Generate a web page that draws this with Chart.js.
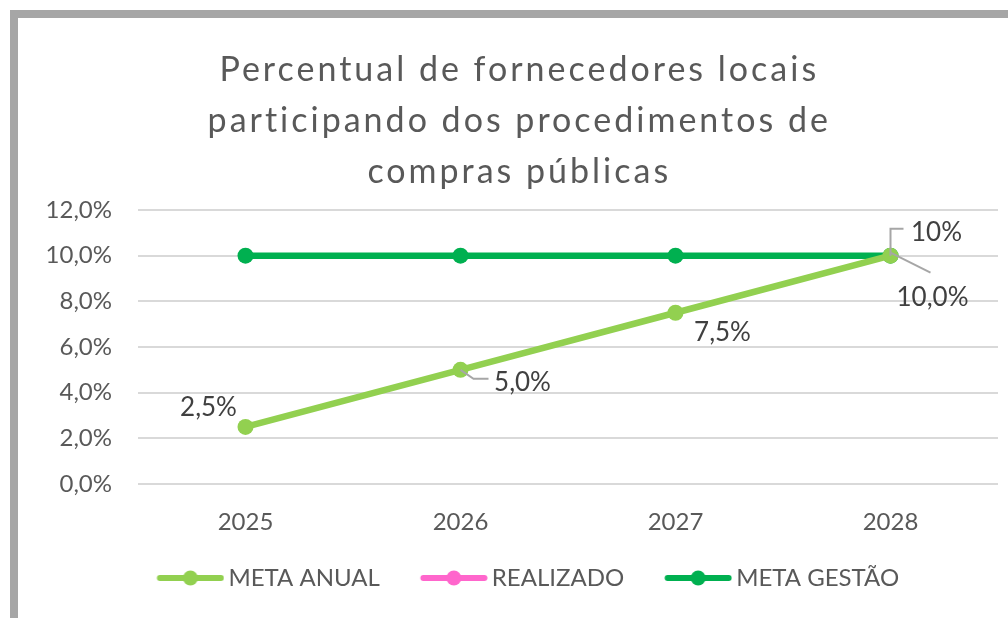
<!DOCTYPE html>
<html>
<head>
<meta charset="utf-8">
<script src="https://cdn.jsdelivr.net/npm/chart.js@4/dist/chart.umd.min.js"></script>
<style>
  html, body { margin: 0; padding: 0; background: #ffffff; overflow: hidden; width: 1008px; height: 618px; }
  #frame { position: absolute; left: 10px; top: 10px; width: 1100px; height: 700px;
           border-top: 8px solid #a6a6a6; border-left: 8px solid #a6a6a6; background: #ffffff; }
  #wrap { position: absolute; left: 18px; top: 18px; width: 1004px; height: 600px; }
</style>
</head>
<body>
<div id="frame"></div>
<div id="wrap"><canvas id="c"></canvas></div>
<script>
// ---- data ----
const categories = ['2025', '2026', '2027', '2028'];
const metaAnual = [0.025, 0.05, 0.075, 0.10];
const realizado = [null, null, null, null];
const metaGestao = [0.10, 0.10, 0.10, 0.10];
const metaAnualLabels = ['2,5%', '5,0%', '7,5%', '10,0%'];
const metaGestaoLabels = [null, null, null, '10%'];
const yTickValues = [0, 0.02, 0.04, 0.06, 0.08, 0.10, 0.12];
const titleLines = ['Percentual de fornecedores locais', 'participando dos procedimentos de', 'compras públicas'];
const seriesNames = ['META ANUAL', 'REALIZADO', 'META GESTÃO'];

// ---- styles ----
const FONT = 'Lato';
const C_ANUAL = '#92d050';
const C_REAL = '#ff66cc';
const C_GESTAO = '#00b050';
const TXT = '#595959';

// legend symbol: line with a dot, drawn on the right part of the image
function legendImage(color) {
  const cv = document.createElement('canvas');
  cv.width = 82; cv.height = 18;
  const g = cv.getContext('2d');
  g.strokeStyle = color; g.lineWidth = 6; g.lineCap = 'round';
  g.beginPath(); g.moveTo(17.5, 9); g.lineTo(78.5, 9); g.stroke();
  g.fillStyle = color; g.beginPath(); g.arc(48, 9, 7.5, 0, Math.PI * 2); g.fill();
  return cv;
}

function fmtPct(v) {
  return (v * 100).toFixed(1).replace('.', ',') + '%';
}

// label placement (offsets from point, leader polylines relative to point)
const labelStyles = {
  0: { labels: metaAnualLabels, place: [
        { dx: -37, dy: -19 },
        { dx: 62, dy: 13, leader: [[0, 0], [13, 9], [28, 9]] },
        { dx: 47, dy: 20 },
        { dx: 42, dy: 42, leader: [[0, -3], [40, 17]] } ] },
  2: { labels: metaGestaoLabels, place: [null, null, null,
        { dx: 46, dy: -23, leader: [[0, 0], [0, -27], [13, -27]] } ] }
};

const dataLabelPlugin = {
  id: 'dataLabelsCustom',
  afterDatasetsDraw(chart) {
    const ctx = chart.ctx;
    ctx.save();
    Object.keys(labelStyles).forEach(k => {
      const cfg = labelStyles[k];
      const meta = chart.getDatasetMeta(+k);
      meta.data.forEach((pt, i) => {
        const txt = cfg.labels[i];
        const p = cfg.place[i];
        if (!txt || !p) return;
        if (p.leader) {
          ctx.strokeStyle = '#a6a6a6'; ctx.lineWidth = 2;
          ctx.beginPath();
          p.leader.forEach((q, j) => {
            const x = pt.x + q[0], y = pt.y + q[1];
            if (j === 0) ctx.moveTo(x, y); else ctx.lineTo(x, y);
          });
          ctx.stroke();
        }
        ctx.fillStyle = '#404040';
        ctx.font = '26px ' + FONT;
        ctx.textAlign = 'center';
        ctx.textBaseline = 'middle';
        ctx.fillText(txt, pt.x + p.dx, pt.y + p.dy);
      });
    });
    ctx.restore();
  }
};

// small horizontal nudges for title and legend, plus spaced title lettering
const TITLE_SHIFT_X = -0.75;
const LEGEND_SHIFT_X = 4.75;
function wrapDraw(box, dx, spacing) {
  if (!box || box._wrapped) return;
  const orig = box.draw;
  box.draw = function (...a) {
    const c = this.ctx;
    const prev = c.letterSpacing;
    c.save();
    c.translate(dx, 0);
    if (spacing) c.letterSpacing = spacing;
    orig.apply(this, a);
    c.restore();
    c.letterSpacing = prev || '0px';
  };
  box._wrapped = true;
}
const nudgePlugin = {
  id: 'nudge',
  beforeDraw(chart) {
    wrapDraw(chart.titleBlock, TITLE_SHIFT_X, '3px');
    wrapDraw(chart.legend, LEGEND_SHIFT_X, null);
  }
};

new Chart(document.getElementById('c'), {
  type: 'line',
  data: {
    labels: categories,
    datasets: [
      { label: seriesNames[0], data: metaAnual, borderColor: C_ANUAL, backgroundColor: C_ANUAL,
        borderWidth: 6.5, pointRadius: 8, pointHoverRadius: 8, pointBackgroundColor: C_ANUAL, pointBorderWidth: 0,
        legendImg: legendImage(C_ANUAL) },
      { label: seriesNames[1], data: realizado, borderColor: C_REAL, backgroundColor: C_REAL,
        borderWidth: 6.5, pointRadius: 8, pointBackgroundColor: C_REAL, pointBorderWidth: 0,
        legendImg: legendImage(C_REAL) },
      { label: seriesNames[2], data: metaGestao, borderColor: C_GESTAO, backgroundColor: C_GESTAO,
        borderWidth: 6.5, pointRadius: 8, pointHoverRadius: 8, pointBackgroundColor: C_GESTAO, pointBorderWidth: 0,
        legendImg: legendImage(C_GESTAO) }
    ]
  },
  options: {
    responsive: true,
    maintainAspectRatio: false,
    animation: false,
    events: [],
    layout: { padding: { left: 24, right: 24, top: 0, bottom: 18 } },
    plugins: {
      title: {
        display: true,
        text: titleLines,
        color: TXT,
        font: { family: FONT, size: 34, weight: 'normal', lineHeight: 1.5 },
        padding: { top: 26.5, bottom: 12.5 }
      },
      legend: {
        position: 'bottom',
        labels: {
          usePointStyle: true,
          pointStyleWidth: 66,
          color: TXT,
          font: { family: FONT, size: 24 },
          padding: 34,
          generateLabels(chart) {
            return chart.data.datasets.map((ds, i) => ({
              text: ds.label, fillStyle: ds.borderColor, strokeStyle: ds.borderColor,
              lineWidth: 0, pointStyle: ds.legendImg, hidden: false, datasetIndex: i, fontColor: TXT
            }));
          }
        }
      },
      tooltip: { enabled: false }
    },
    scales: {
      x: {
        offset: true,
        afterFit(scale) { scale.height = 48; },
        grid: { display: false, drawTicks: false },
        border: { display: false },
        ticks: { color: TXT, font: { family: FONT, size: 24 }, padding: 23.6 }
      },
      y: {
        min: 0, max: 0.12,
        afterBuildTicks(scale) { scale.ticks = yTickValues.map(v => ({ value: v })); },
        afterFit(scale) { scale.width = 96; },
        grid: { color: '#d9d9d9', lineWidth: 2, drawTicks: false },
        border: { display: false },
        ticks: { color: TXT, font: { family: FONT, size: 24 }, padding: 26, callback: v => fmtPct(v) }
      }
    }
  },
  plugins: [nudgePlugin, dataLabelPlugin]
});
</script>
</body>
</html>
